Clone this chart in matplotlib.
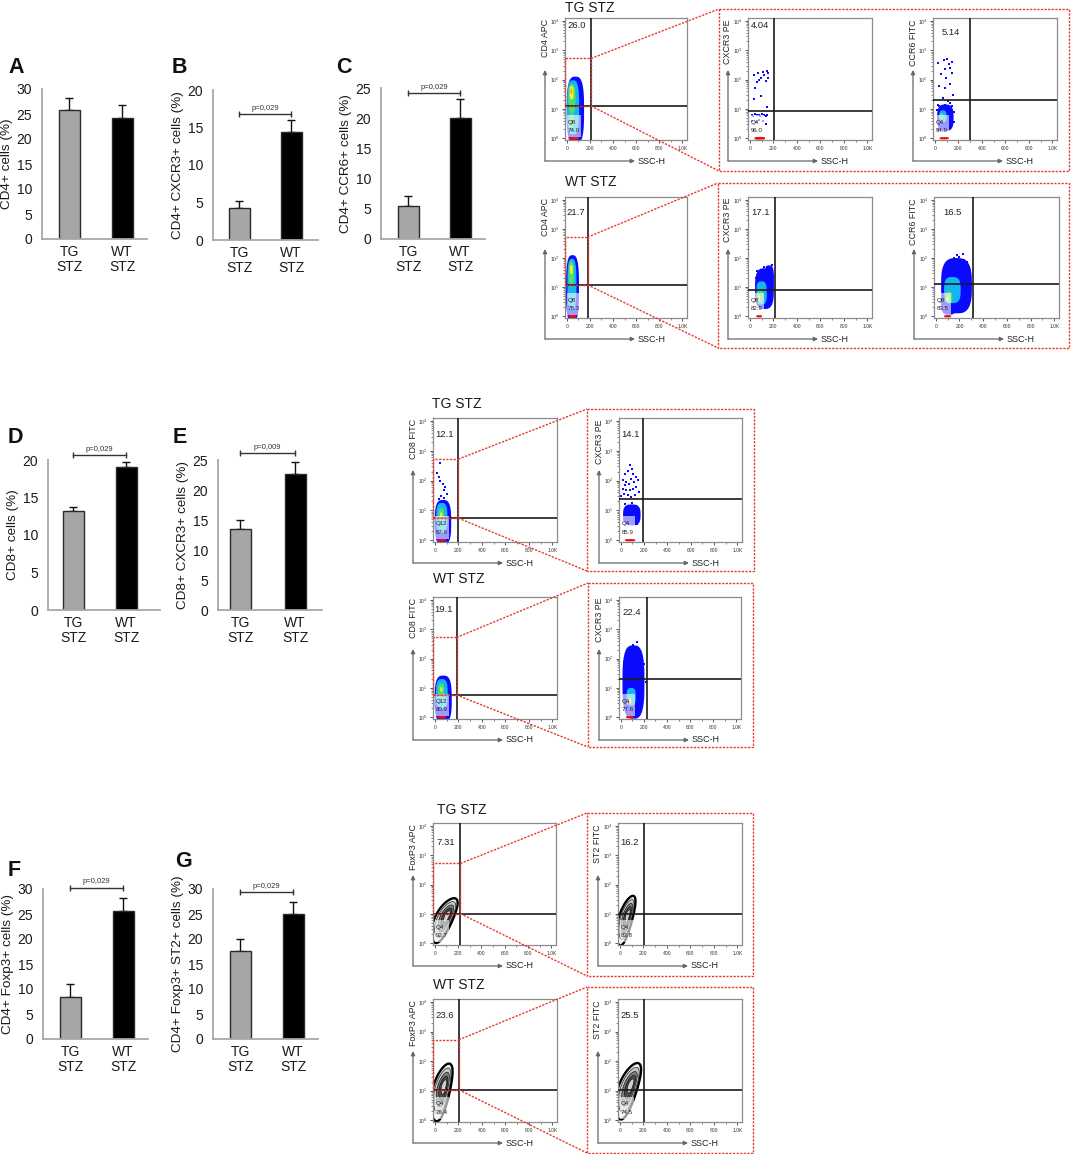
import numpy as np
import matplotlib
matplotlib.use('Agg')
import matplotlib.pyplot as plt
from matplotlib.patches import Rectangle, Polygon
from matplotlib.ticker import FixedLocator

plt.rcParams['font.family'] = ['Liberation Sans', 'DejaVu Sans']
plt.rcParams['mathtext.fontset'] = 'custom'
plt.rcParams['mathtext.rm'] = 'Liberation Sans'
plt.rcParams['mathtext.it'] = 'Liberation Sans:italic'

W, H = 1072, 1154
fig = plt.figure(figsize=(W / 100, H / 100), dpi=100)


def px_axes(l, t, r, b, z=1):
    return fig.add_axes([l / W, 1 - b / H, (r - l) / W, (b - t) / H], zorder=z)


# ======================= bar-chart data =======================
groups = ['TG\nSTZ', 'WT\nSTZ']
cd4_mean, cd4_err = [25.8, 24.2], [2.5, 2.6]
cd4cxcr3_mean, cd4cxcr3_err = [4.3, 14.4], [0.9, 1.6]
cd4ccr6_mean, cd4ccr6_err = [5.5, 20.1], [1.6, 3.0]
cd8_mean, cd8_err = [13.2, 19.1], [0.6, 0.6]
cd8cxcr3_mean, cd8cxcr3_err = [13.5, 22.6], [1.5, 2.1]
foxp3_mean, foxp3_err = [8.5, 25.6], [2.5, 2.6]
foxp3st2_mean, foxp3st2_err = [17.6, 25.0], [2.5, 2.5]
bar_ymax = [30, 20, 25, 20, 25, 30, 30]
p_texts = [None, 'p=0,029', 'p=0,029', 'p=0,029', 'p=0,009', 'p=0,029', 'p=0,029']
p_levels = [None, 16.8, 24.2, 20.7, 26.2, 30.3, 29.4]

bar_panels = [
    # letter, ylabel, means, errs, layout (l, r, tg_px, wt_px, top, bottom), letter pos
    ('A', 'CD4+ cells (%)', cd4_mean, cd4_err, (42, 147, 69, 122, 89, 239), (8, 73)),
    ('B', 'CD4+ CXCR3+ cells (%)', cd4cxcr3_mean, cd4cxcr3_err, (213, 318, 239, 291, 90, 240), (172, 73)),
    ('C', 'CD4+ CCR6+ cells (%)', cd4ccr6_mean, cd4ccr6_err, (381, 485, 408, 460, 88, 239), (336, 73)),
    ('D', 'CD8+ cells (%)', cd8_mean, cd8_err, (48, 160, 73, 126, 460, 610), (8, 443)),
    ('E', 'CD8+ CXCR3+ cells (%)', cd8cxcr3_mean, cd8cxcr3_err, (218, 322, 240, 295, 460, 610), (173, 443)),
    ('F', 'CD4+ Foxp3+ cells (%)', foxp3_mean, foxp3_err, (43, 148, 70, 123, 889, 1039), (8, 876)),
    ('G', 'CD4+ Foxp3+ ST2+ cells (%)', foxp3st2_mean, foxp3st2_err, (213, 318, 240, 293, 889, 1039), (175, 867)),
]

for i, (letter, ylab, means, errs, lay, lpos) in enumerate(bar_panels):
    l, r, tgx, wtx, t, b = lay
    u = wtx - tgx
    ax = px_axes(l, t, r, b)
    ax.set_xlim((l - tgx) / u, (r - tgx) / u)
    ax.set_ylim(0, bar_ymax[i])
    xs = [0, 1]
    ax.errorbar(xs, means, yerr=[[0, 0], errs], fmt='none', ecolor='#111111',
                elinewidth=1.0, capsize=2.6, capthick=1.0, zorder=1)
    ax.bar(xs, means, width=21 / u, color=['#a6a6a6', '#000000'],
           edgecolor='#2a2a2a', linewidth=1.0, zorder=2)
    for s in ['top', 'right']:
        ax.spines[s].set_visible(False)
    for s in ['left', 'bottom']:
        ax.spines[s].set_color('#a8a8a8')
        ax.spines[s].set_linewidth(1.3)
    ax.set_yticks(np.arange(0, bar_ymax[i] + 1, 5))
    ax.set_xticks(xs)
    ax.set_xticklabels(groups, linespacing=1.1)
    ax.tick_params(axis='y', length=0, pad=7, labelsize=10, labelcolor='#1a1a1a')
    ax.tick_params(axis='x', length=0, pad=4, labelsize=10, labelcolor='#1a1a1a')
    ax.set_ylabel(ylab, fontsize=9.7, color='#1a1a1a')
    ax.yaxis.set_label_coords(-(min(l, 30) - 1) / (r - l), 0.5)
    if p_texts[i]:
        ax.plot([0, 1], [p_levels[i]] * 2, color='#333333', lw=1.0,
                marker='|', markersize=4, mew=1.0, clip_on=False, zorder=3)
        ax.annotate(p_texts[i], xy=(0.5, p_levels[i]), xytext=(0, 1.5),
                    textcoords='offset points', ha='center', va='bottom',
                    fontsize=5.5, color='#333333', annotation_clip=False)
    fig.text(lpos[0] / W, 1 - lpos[1] / H, letter, fontsize=15.5, fontweight='bold',
             ha='left', va='baseline', color='#111111')

# ======================= flow cytometry data =======================
# gates (SSC-H position, log10 fluorescence position) and quadrant frequencies
cd4_gate_ssc, cd4_gate_log = [210, 180], [1.10, 1.08]
cd4_upper, cd4_lower = ['26.0', '21.7'], [('Q8', '74.0'), ('Q8', '78.3')]
cd4cxcr3_gate_ssc, cd4cxcr3_gate_log = [205, 212], [0.94, 0.89]
cd4cxcr3_upper, cd4cxcr3_lower = ['4.04', '17.1'], [('Q4', '96.0'), ('Q8', '82.9')]
cd4ccr6_gate_ssc, cd4ccr6_gate_log = [300, 315], [1.30, 1.10]
cd4ccr6_upper, cd4ccr6_lower = ['5.14', '16.5'], [('Q4', '94.9'), ('Q8', '83.5')]
cd8_gate_ssc, cd8_gate_log = [200, 185], [0.74, 0.76]
cd8_upper, cd8_lower = ['12.1', '19.1'], [('Q12', '87.9'), ('Q12', '80.9')]
cd8cxcr3_gate_ssc, cd8cxcr3_gate_log = [190, 230], [1.38, 1.31]
cd8cxcr3_upper, cd8cxcr3_lower = ['14.1', '22.4'], [('Q4', '85.9'), ('Q4', '77.6')]
foxp3_gate_ssc, foxp3_gate_log = [220, 205], [1.01, 1.03]
foxp3_upper, foxp3_lower = ['7.31', '23.6'], [('Q4', '92.7'), ('Q4', '76.4')]
st2_gate_ssc, st2_gate_log = [205, 205], [0.98, 1.03]
st2_upper, st2_lower = ['16.2', '25.5'], [('Q4', '83.8'), ('Q4', '74.5')]

# sparse events (SSC-H, log10 intensity)
cd4cxcr3_tg_x = [69, 39, 110, 143, 158, 122, 93, 152, 134, 45, 99, 39, 143, 81, 60,
                 15, 30, 45, 60, 75, 90, 105, 120, 135, 150, 20, 50, 80, 110, 140]
cd4cxcr3_tg_y = [2.23, 2.14, 2.27, 2.30, 2.23, 2.14, 2.05, 2.05, 1.95, 1.70, 1.45, 1.34, 1.06, 1.99, 1.91,
                 0.80, 0.75, 0.82, 0.78, 0.80, 0.76, 0.82, 0.79, 0.77, 0.80, 0.60, 0.55, 0.62, 0.58, 0.50]
cd4ccr6_tg_x = [30, 75, 120, 84, 129, 54, 99, 144, 39, 84, 129, 159, 69, 114, 24, 150, 108,
                40, 90, 130, 60, 110, 150, 20, 160, 140, 160, 25]
cd4ccr6_tg_y = [2.55, 2.67, 2.53, 2.36, 2.41, 2.18, 2.07, 2.24, 1.78, 1.72, 1.84, 1.49, 1.38, 1.26, 1.15, 2.59, 2.70,
                1.10, 1.15, 1.20, 1.05, 1.00, 1.10, 0.95, 0.90, 0.40, 0.55, 0.30]
cd4cxcr3_wt_x = [60, 190, 175, 150, 200, 55, 120, 185]
cd4cxcr3_wt_y = [1.55, 1.75, 1.62, 1.70, 1.40, 1.30, 1.68, 1.05]
cd4ccr6_wt_x = [150, 200, 240, 260, 180, 230, 280, 120, 60, 275, 210]
cd4ccr6_wt_y = [2.00, 2.05, 1.95, 1.85, 2.10, 2.15, 1.70, 1.90, 1.40, 1.25, 1.80]
cd8_tg_x = [48, 20, 34, 48, 70, 90, 76, 104, 53, 81, 34]
cd8_tg_y = [2.58, 2.26, 2.11, 2.00, 1.89, 1.78, 1.67, 1.56, 1.50, 1.42, 1.39]
cd8cxcr3_tg_x = [78, 98, 63, 35, 107, 127, 86, 20, 49, 115, 150, 20, 49, 78, 107, 135, 156, 29, 63, 92, 6, 121,
                 35, 72, 40, 70, 100, 130, 160, 50, 90, 120, 150, 30, 80, 140, 110]
cd8cxcr3_tg_y = [2.51, 2.40, 2.32, 2.23, 2.23, 2.12, 2.07, 2.01, 1.96, 1.96, 2.01, 1.73, 1.68, 1.68, 1.73, 1.79,
                 1.62, 1.56, 1.51, 1.45, 1.47, 1.51, 1.84, 1.88, 1.20, 1.10, 1.25, 1.15, 1.00, 0.90, 0.95,
                 0.85, 0.75, 0.70, 0.65, 0.55, 0.60]
cd8cxcr3_wt_x = [50, 120, 160, 90, 200, 30, 140, 70, 180, 105, 215, 25]
cd8cxcr3_wt_y = [2.30, 2.40, 2.20, 2.00, 1.80, 1.90, 2.55, 2.15, 1.55, 2.45, 1.20, 1.10]

# density-cloud outlines: (centre SSC, centre log, width, height, colour level)
clouds = {
    'cd4_tg': [(75, 0.95, 150, 2.3, 'b'), (55, 1.05, 105, 1.85, 'c'), (45, 1.35, 62, 1.0, 'g'),
               (42, 0.6, 45, 0.5, 'g'), (42, 1.55, 34, 0.45, 'y'), (40, 1.6, 14, 0.18, 'o'),
               (60, 0.0, 90, 0.1, 'r')],
    'cd4_wt': [(50, 0.95, 112, 2.3, 'b'), (45, 1.1, 78, 1.75, 'c'), (40, 1.45, 46, 0.85, 'g'),
               (40, 1.6, 22, 0.32, 'y'), (50, 0.0, 70, 0.1, 'r')],
    'cd4cxcr3_tg': [(85, 0.0, 90, 0.1, 'r')],
    'cd4cxcr3_wt': [(125, 0.95, 160, 1.4, 'b'), (165, 1.3, 80, 0.9, 'b'), (100, 0.8, 90, 0.8, 'c'),
                    (90, 0.7, 50, 0.45, 'g'), (75, 0.62, 26, 0.2, 'y'), (70, 0.6, 12, 0.1, 'r'),
                    (80, 0.0, 50, 0.08, 'r')],
    'cd4ccr6_tg': [(90, 0.7, 140, 0.9, 'b'), (70, 0.75, 60, 0.4, 'c'), (55, 0.75, 35, 0.2, 'g'),
                   (80, 0.0, 80, 0.08, 'r')],
    'cd4ccr6_wt': [(175, 1.05, 260, 1.9, 'b'), (110, 0.5, 130, 0.9, 'b'), (140, 0.9, 140, 0.9, 'c'),
                   (110, 0.65, 60, 0.4, 'g'), (100, 0.6, 25, 0.15, 'y'), (100, 0.0, 60, 0.08, 'r')],
    'cd8_tg': [(70, 0.6, 140, 1.5, 'b'), (60, 0.75, 95, 1.0, 'c'), (55, 0.85, 45, 0.45, 'g'),
               (55, 0.85, 20, 0.15, 'y'), (60, 0.0, 80, 0.08, 'r')],
    'cd8_wt': [(72, 0.62, 145, 1.6, 'b'), (60, 0.8, 100, 1.0, 'c'), (55, 0.9, 50, 0.5, 'g'),
               (55, 0.95, 20, 0.15, 'y'), (60, 0.0, 80, 0.08, 'r')],
    'cd8cxcr3_tg': [(95, 0.85, 150, 0.7, 'b'), (80, 0.0, 90, 0.08, 'r')],
    'cd8cxcr3_wt': [(110, 1.2, 190, 2.5, 'b'), (90, 0.7, 80, 0.6, 'c'), (75, 0.55, 30, 0.2, 'y'),
                    (70, 0.5, 15, 0.1, 'r'), (80, 0.0, 70, 0.08, 'r')],
}
# contour (zebra) plots: centre SSC, centre log, semi-major, semi-minor (axes fraction), angle
contours = {
    'foxp3_tg': (90, 0.77, 0.20, 0.07, 65),
    'foxp3_wt': (69, 0.94, 0.24, 0.07, 77),
    'st2_tg': (59, 0.77, 0.21, 0.055, 75),
    'st2_wt': (80, 0.98, 0.24, 0.075, 72),
}

JET = {'b': '#0a0aff', 'c': '#14b4f5', 'g': '#4fe06a', 'y': '#f6f236', 'o': '#ff9818', 'r': '#ee1010'}
XMIN, XMAX = -15, 1040
YMIN, YMAX = -0.06, 4.1
RED = '#e8392c'
RED_LS = (0, (1.6, 1.0))


def setup_frame(ax):
    ax.set_xlim(XMIN, XMAX)
    ax.set_ylim(YMIN, YMAX)
    for s in ax.spines.values():
        s.set_color('#8c8c8c')
        s.set_linewidth(0.9)
    ax.set_xticks([0, 200, 400, 600, 800, 1000])
    ax.set_xticklabels(['0', '200', '400', '600', '800', '1.0K'])
    ax.xaxis.set_minor_locator(FixedLocator(np.arange(100, 1000, 200)))
    ax.set_yticks([0, 1, 2, 3, 4])
    ax.set_yticklabels([r'$10^{%d}$' % k for k in range(5)])
    ax.yaxis.set_minor_locator(FixedLocator([k + np.log10(m) for k in range(4) for m in range(2, 10)]))
    ax.tick_params(which='major', length=2.2, width=0.7, color='#555555', labelsize=3.6,
                   pad=1.8, labelcolor='#333333')
    ax.tick_params(which='minor', length=1.2, width=0.5, color='#555555')


def blob(ax, cx, cy, w, h, color, p=3.0):
    t = np.linspace(0, 2 * np.pi, 120)
    c, s = np.cos(t), np.sin(t)
    x = cx + w / 2 * np.sign(c) * np.abs(c) ** (2 / p)
    y = cy + h / 2 * np.sign(s) * np.abs(s) ** (2 / p)
    ax.add_patch(Polygon(np.column_stack([x, y]), closed=True, fc=color, ec='none', zorder=1))


def zebra(ax, spec):
    cx, cy, a, b, ang = spec
    sx, sy = XMAX - XMIN, YMAX - YMIN
    th = np.deg2rad(ang)
    t = np.linspace(0, 2 * np.pi, 120)
    fills = ['#f0f0f0', '#c4c4c4', '#7c7c7c', '#4a4a4a', '#d2d2d2']
    scales = [1.0, 0.8, 0.6, 0.42, 0.25]
    for k, (sc, fc) in enumerate(zip(scales, fills)):
        shift = 0.25 * (1 - sc) * a
        ccx = cx + shift * np.cos(th) * sx
        ccy = cy + shift * np.sin(th) * sy
        u = a * sc * np.cos(t)
        v = b * sc * np.sin(t) * (1 + 0.25 * np.sin(t))
        du = u * np.cos(th) - v * np.sin(th)
        dv = u * np.sin(th) + v * np.cos(th)
        ax.add_patch(Polygon(np.column_stack([ccx + du * sx, ccy + dv * sy]), closed=True, fc=fc,
                             ec='#000000', lw=1.7 if k == 0 else 0.4, zorder=1 + k * 0.01))


def flow_panel(frame, ylabel, gx, gy, upper, lower, lab_y, cloud=None, dots=None, zeb=None):
    l, t, r, b = frame
    ax = px_axes(l, t, r, b, z=2)
    setup_frame(ax)
    if cloud:
        for (cx, cy, w, h, c) in clouds[cloud]:
            blob(ax, cx, cy, w, h, JET[c])
    if zeb:
        zebra(ax, contours[zeb])
    if dots:
        ax.scatter(dots[0], dots[1], s=4.5, marker='s', c=JET['b'], linewidths=0, zorder=2)
    ax.axvline(gx, color='#1a1a1a', lw=1.2, zorder=3)
    ax.axhline(gy, color='#1a1a1a', lw=1.2, zorder=3)
    ax.add_patch(Rectangle((0, 0.05), min(125, gx - 12), 0.75, fc='white', ec='none',
                           alpha=0.6, zorder=4))
    ax.text((XMIN + gx) / 2 - 8, lab_y, upper, fontsize=6.8, ha='center', va='center',
            color='#222222', zorder=5)
    ax.text(8, 0.55, lower[0], fontsize=4.4, ha='left', va='center', color='#222222', zorder=5)
    ax.text(8, 0.27, lower[1], fontsize=4.4, ha='left', va='center', color='#222222', zorder=5)
    # outer FlowJo-style axes with arrows
    axx, base = l - 20, b + 21
    ov.annotate('', xy=(axx, t + 52), xytext=(axx, base),
                arrowprops=dict(arrowstyle='-|>', color='#666666', lw=0.9, mutation_scale=6,
                                shrinkA=0, shrinkB=0))
    ov.annotate('', xy=(l + 70, base), xytext=(axx, base),
                arrowprops=dict(arrowstyle='-|>', color='#666666', lw=0.9, mutation_scale=6,
                                shrinkA=0, shrinkB=0))
    ov.text(l + 73, base, 'SSC-H', fontsize=6.5, ha='left', va='center', color='#222222')
    ov.text(axx, t + 1, ylabel, fontsize=6.4, rotation=90, ha='center', va='top', color='#222222')
    return ax


def to_px(ax, x, y):
    d = ax.transData.transform((x, y))
    return d[0], H - d[1]


def zoom_link(ax, gx, gy, box, top_log=2.72):
    l, t, r, b = box
    ov.add_patch(Rectangle((l, t), r - l, b - t, fill=False, ec=RED, lw=1.0, ls=RED_LS, zorder=5))
    ax.add_patch(Rectangle((XMIN, gy), gx - XMIN, top_log - gy, fill=False, ec=RED, lw=1.0,
                           ls=RED_LS, zorder=6, clip_on=False))
    p1 = to_px(ax, gx, top_log)
    p2 = to_px(ax, gx, gy)
    ov.plot([p1[0], l], [p1[1], t], color=RED, lw=1.0, ls=RED_LS, zorder=5)
    ov.plot([p2[0], l], [p2[1], b], color=RED, lw=1.0, ls=RED_LS, zorder=5)


ov = fig.add_axes([0, 0, 1, 1], zorder=10)
ov.set_xlim(0, W)
ov.set_ylim(H, 0)
ov.axis('off')

TITLE_FS = 10

# ---- section 1: CD4 ----
for k, (frames, box, title_pos) in enumerate([
        (((565, 18, 687, 140), (748, 18, 872, 140), (933, 18, 1057, 140)), (719, 9, 1069, 171), (565, 8)),
        (((565, 197, 687, 318), (748, 197, 872, 318), (934, 197, 1059, 318)), (718, 183, 1069, 348), (565, 182))]):
    tg = (k == 0)
    a1 = flow_panel(frames[0], 'CD4 APC', cd4_gate_ssc[k], cd4_gate_log[k], cd4_upper[k], cd4_lower[k],
                    3.86 if tg else 3.55, cloud='cd4_tg' if tg else 'cd4_wt')
    flow_panel(frames[1], 'CXCR3 PE', cd4cxcr3_gate_ssc[k], cd4cxcr3_gate_log[k], cd4cxcr3_upper[k],
               cd4cxcr3_lower[k], 3.86 if tg else 3.55, cloud='cd4cxcr3_tg' if tg else 'cd4cxcr3_wt',
               dots=(cd4cxcr3_tg_x, cd4cxcr3_tg_y) if tg else (cd4cxcr3_wt_x, cd4cxcr3_wt_y))
    flow_panel(frames[2], 'CCR6 FITC', cd4ccr6_gate_ssc[k], cd4ccr6_gate_log[k], cd4ccr6_upper[k],
               cd4ccr6_lower[k], 3.6 if tg else 3.55, cloud='cd4ccr6_tg' if tg else 'cd4ccr6_wt',
               dots=(cd4ccr6_tg_x, cd4ccr6_tg_y) if tg else (cd4ccr6_wt_x, cd4ccr6_wt_y))
    zoom_link(a1, cd4_gate_ssc[k], cd4_gate_log[k], box)
    fig.text(title_pos[0] / W, 1 - title_pos[1] / H, 'TG STZ' if tg else 'WT STZ', fontsize=TITLE_FS,
             ha='left', va='center', color='#1a1a1a')

# ---- section 2: CD8 ----
for k, (frames, box, title_pos) in enumerate([
        (((433, 418, 557, 542), (619, 418, 742, 542)), (587, 409, 754, 571), (432, 404)),
        (((433, 597, 557, 719), (619, 597, 741, 719)), (588, 583, 753, 747), (433, 579))]):
    tg = (k == 0)
    a1 = flow_panel(frames[0], 'CD8 FITC', cd8_gate_ssc[k], cd8_gate_log[k], cd8_upper[k], cd8_lower[k],
                    3.53 if tg else 3.66, cloud='cd8_tg' if tg else 'cd8_wt',
                    dots=(cd8_tg_x, cd8_tg_y) if tg else None)
    flow_panel(frames[1], 'CXCR3 PE', cd8cxcr3_gate_ssc[k], cd8cxcr3_gate_log[k], cd8cxcr3_upper[k],
               cd8cxcr3_lower[k], 3.53 if tg else 3.57, cloud='cd8cxcr3_tg' if tg else 'cd8cxcr3_wt',
               dots=(cd8cxcr3_tg_x, cd8cxcr3_tg_y) if tg else (cd8cxcr3_wt_x, cd8cxcr3_wt_y))
    zoom_link(a1, cd8_gate_ssc[k], cd8_gate_log[k], box)
    fig.text(title_pos[0] / W, 1 - title_pos[1] / H, 'TG STZ' if tg else 'WT STZ', fontsize=TITLE_FS,
             ha='left', va='center', color='#1a1a1a')

# ---- section 3: Foxp3 / ST2 ----
for k, (frames, box, title_pos) in enumerate([
        (((433, 823, 556, 945), (618, 823, 742, 945)), (587, 813, 753, 976), (437, 810)),
        (((433, 999, 557, 1122), (618, 999, 742, 1122)), (587, 987, 753, 1153), (433, 985))]):
    tg = (k == 0)
    a1 = flow_panel(frames[0], 'FoxP3 APC', foxp3_gate_ssc[k], foxp3_gate_log[k], foxp3_upper[k],
                    foxp3_lower[k], 3.45 if tg else 3.55, zeb='foxp3_tg' if tg else 'foxp3_wt')
    flow_panel(frames[1], 'ST2 FITC', st2_gate_ssc[k], st2_gate_log[k], st2_upper[k],
               st2_lower[k], 3.42 if tg else 3.55, zeb='st2_tg' if tg else 'st2_wt')
    zoom_link(a1, foxp3_gate_ssc[k], foxp3_gate_log[k], box)
    fig.text(title_pos[0] / W, 1 - title_pos[1] / H, 'TG STZ' if tg else 'WT STZ', fontsize=TITLE_FS,
             ha='left', va='center', color='#1a1a1a')

fig.savefig('out.png', dpi=100, facecolor='white')
